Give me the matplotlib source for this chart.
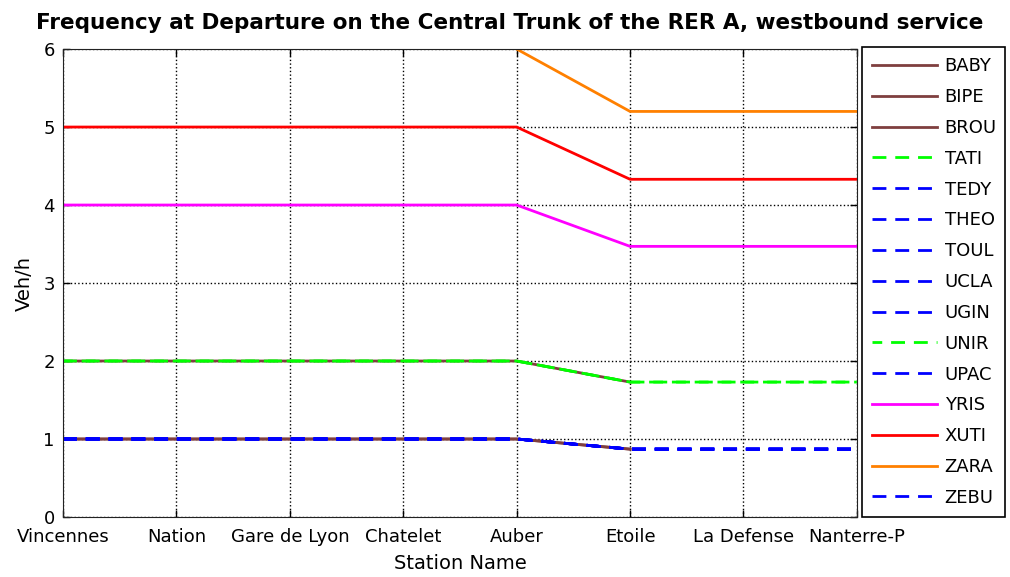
import numpy as np
import matplotlib.pyplot as plt

plt.rcParams['font.family'] = 'DejaVu Sans'
plt.rcParams['font.size'] = 13

stations = ['Vincennes', 'Nation', 'Gare de Lyon', 'Chatelet', 'Auber',
            'Etoile', 'La Defense', 'Nanterre-P']
nan = np.nan

# frequency at departure (veh/h) per mission
BABY = [2, 2, 2, 2, 2, 1.73, nan, nan]
BIPE = [1, 1, 1, 1, 1, 0.87, nan, nan]
BROU = [1, 1, 1, 1, 1, 0.87, nan, nan]
TATI = [2, 2, 2, 2, 2, 1.73, 1.73, 1.73]
TEDY = [1, 1, 1, 1, 1, 0.87, 0.87, 0.87]
THEO = [1, 1, 1, 1, 1, 0.87, 0.87, 0.87]
TOUL = [1, 1, 1, 1, 1, 0.87, 0.87, 0.87]
UCLA = [1, 1, 1, 1, 1, 0.87, 0.87, 0.87]
UGIN = [1, 1, 1, 1, 1, 0.87, 0.87, 0.87]
UNIR = [2, 2, 2, 2, 2, 1.73, 1.73, 1.73]
UPAC = [1, 1, 1, 1, 1, 0.87, 0.87, 0.87]
YRIS = [4, 4, 4, 4, 4, 3.47, 3.47, 3.47]
XUTI = [5, 5, 5, 5, 5, 4.33, 4.33, 4.33]
ZARA = [nan, nan, nan, nan, 6, 5.2, 5.2, 5.2]
ZEBU = [1, 1, 1, 1, 1, 0.87, 0.87, 0.87]

brown = '#7f3f3f'
green = '#00ff00'
blue = '#0000ff'
series = [
    ('BABY', BABY, brown, '-'),
    ('BIPE', BIPE, brown, '-'),
    ('BROU', BROU, brown, '-'),
    ('TATI', TATI, green, '--'),
    ('TEDY', TEDY, blue, '--'),
    ('THEO', THEO, blue, '--'),
    ('TOUL', TOUL, blue, '--'),
    ('UCLA', UCLA, blue, '--'),
    ('UGIN', UGIN, blue, '--'),
    ('UNIR', UNIR, green, '--'),
    ('UPAC', UPAC, blue, '--'),
    ('YRIS', YRIS, '#ff00ff', '-'),
    ('XUTI', XUTI, '#ff0000', '-'),
    ('ZARA', ZARA, '#ff8000', '-'),
    ('ZEBU', ZEBU, blue, '--'),
]

x = np.arange(len(stations))
fig = plt.figure(figsize=(10.1, 5.77), dpi=100)
ax = fig.add_axes([0.0624, 0.104, 0.786, 0.811])

lines = []
for name, vals, col, ls in series:
    if ls == '--':
        ls = (0, (5, 3.2))
    ln, = ax.plot(x, vals, color=col, linestyle=ls, linewidth=2, label=name)
    lines.append(ln)
# second green run slightly shifted
lines[9].set_linestyle((1.5, (5, 3.2)))

ax.set_xlim(0, len(stations) - 1)
ax.set_ylim(0, 6)
ax.set_xticks(x)
ax.set_xticklabels(stations)
ax.set_yticks(range(7))
ax.tick_params(direction='in', length=5, width=1, labelsize=13)
ax.tick_params(axis='x', pad=8)
ax.tick_params(axis='y', pad=6)
ax.tick_params(top=True, right=True)
ax.grid(True, color='black', linestyle=':', linewidth=1)
for s in ax.spines.values():
    s.set_color('#222222')
ax.set_xlabel('Station Name', fontsize=14, labelpad=6)
ax.set_ylabel('Veh/h', fontsize=14, labelpad=7)
fig.suptitle('Frequency at Departure on the Central Trunk of the RER A, westbound service',
             fontsize=15.5, fontweight='bold', x=0.505, y=0.978)

leg = ax.legend(loc='center', bbox_to_anchor=(1.006, 0, 0.18, 1.004), mode='expand',
                fancybox=False, edgecolor='black', framealpha=1, handlelength=3.6,
                labelspacing=0.71, borderaxespad=0, borderpad=0.55,
                handletextpad=0.45, fontsize=13)
leg.get_frame().set_linewidth(1.2)

plt.savefig('out.png', dpi=100)
